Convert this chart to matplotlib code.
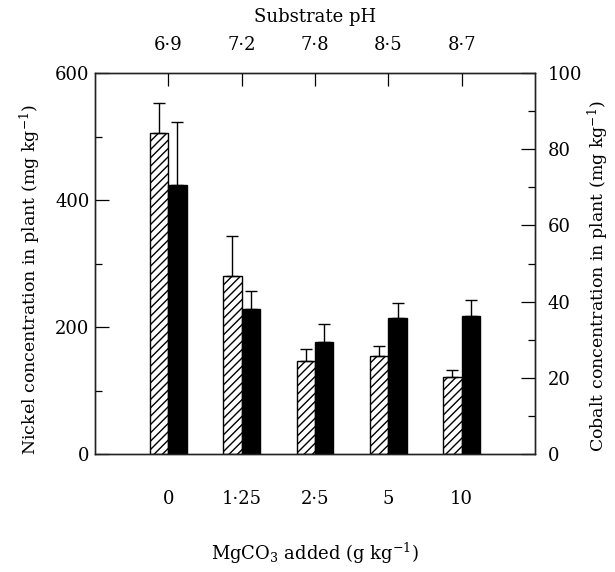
import matplotlib.pyplot as plt
import numpy as np

# MgCO3 rates, substrate pH and plant concentrations (mean, upper error)
mgco3 = ['0', '1·25', '2·5', '5', '10']
ph = ['6·9', '7·2', '7·8', '8·5', '8·7']
nickel = [506, 281, 147, 155, 122]
nickel_err = [47, 63, 18, 15, 11]
cobalt = [70.7, 38.1, 29.4, 35.8, 36.2]
cobalt_err = [16.5, 4.8, 4.6, 3.8, 4.1]

plt.rcParams['font.family'] = 'DejaVu Serif'
plt.rcParams['mathtext.fontset'] = 'dejavuserif'
plt.rcParams['hatch.linewidth'] = 1.0
fs = 13

W, H = 615, 572
x = np.arange(len(mgco3))
w = 0.25

fig = plt.figure(figsize=(W / 100, H / 100), dpi=100)
# axes box in pixels: left 95, right 535, top 73, bottom 454
ax = fig.add_axes([95 / W, 1 - 454 / H, 440 / W, 381 / H])

# nickel, hatched, left axis
ax.bar(x - w / 2, nickel, w, facecolor='white', edgecolor='black',
       hatch='////', linewidth=1.0, zorder=2)
ax.errorbar(x - w / 2, nickel, yerr=[np.zeros(len(x)), nickel_err],
            fmt='none', ecolor='black', elinewidth=1.0, capsize=4.5,
            capthick=1.0, zorder=3)
ax.set_xlim(-1, 5)
ax.set_ylim(0, 600)
ax.set_xticks(x)
ax.set_xticklabels(mgco3, fontsize=fs)
ax.tick_params(axis='x', length=0, pad=26)
ax.set_yticks([0, 200, 400, 600])
ax.set_yticks([100, 300, 500], minor=True)
ax.tick_params(axis='y', which='major', direction='in', length=10,
               width=0.9, labelsize=fs, pad=4)
ax.tick_params(axis='y', which='minor', direction='in', length=5, width=0.9)

# cobalt, solid black, right axis
ax2 = ax.twinx()
ax2.bar(x + w / 2, cobalt, w, facecolor='black', edgecolor='black',
        linewidth=1.0, zorder=2)
ax2.errorbar(x + w / 2, cobalt, yerr=[np.zeros(len(x)), cobalt_err],
             fmt='none', ecolor='black', elinewidth=1.0, capsize=4.5,
             capthick=1.0, zorder=3)
ax2.set_ylim(0, 100)
ax2.set_yticks(np.arange(0, 101, 20))
ax2.set_yticks(np.arange(10, 100, 20), minor=True)
ax2.tick_params(axis='y', which='major', direction='in', length=10,
                width=0.9, labelsize=fs, pad=9)
ax2.tick_params(axis='y', which='minor', direction='in', length=5, width=0.9)

# substrate pH on the top axis
ax3 = ax.twiny()
ax3.set_xlim(ax.get_xlim())
ax3.set_xticks(x)
ax3.set_xticklabels(ph, fontsize=fs)
ax3.tick_params(axis='x', direction='in', length=9, width=0.9, pad=14)

for a in (ax, ax2, ax3):
    for s in a.spines.values():
        s.set_linewidth(0.9)
        s.set_color('#222222')

# axis titles placed by pixel position
fig.text(30 / W, 1 - 280 / H, 'Nickel concentration in plant (mg kg$^{-1}$)',
         rotation=90, ha='center', va='center', fontsize=12.5)
fig.text(598 / W, 1 - 276 / H, 'Cobalt concentration in plant (mg kg$^{-1}$)',
         rotation=90, ha='center', va='center', fontsize=12.5)
fig.text(315 / W, 1 - 553 / H, 'MgCO$_3$ added (g kg$^{-1}$)',
         ha='center', va='center', fontsize=fs)
fig.text(315 / W, 1 - 17 / H, 'Substrate pH', ha='center', va='center',
         fontsize=fs)

fig.savefig('out.png', dpi=100)
